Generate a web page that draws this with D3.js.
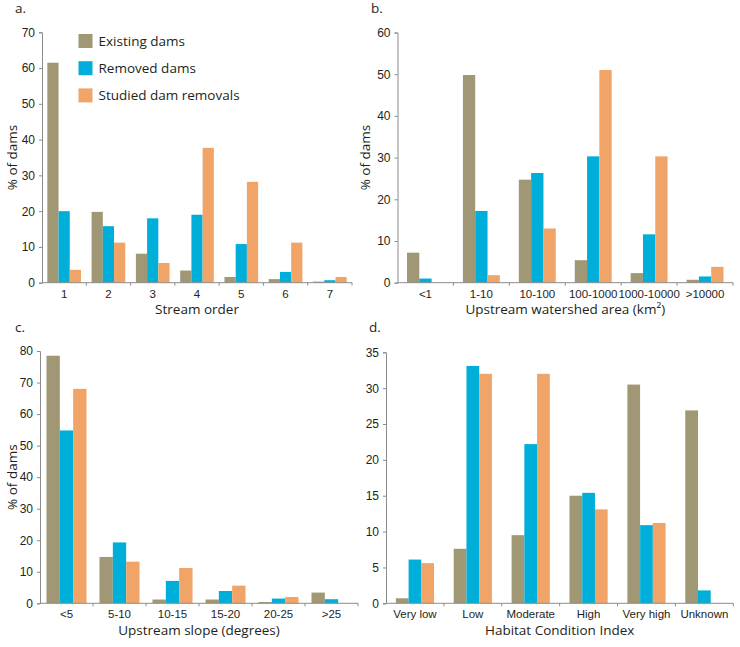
<!DOCTYPE html>
<html>
<head>
<meta charset="utf-8">
<script src="https://cdn.jsdelivr.net/npm/d3@7"></script>
<style>
  body { margin: 0; background: #fff; }
  svg { display: block; font-family: "Open Sans", sans-serif; }
  .axis path, .axis line { stroke: #8c8c8c; }
  .axis text { fill: #231f20; font-size: 11.5px; }
</style>
</head>
<body>
<div id="chart"></div>
<script>
// series names and colours
const seriesNames = ['Existing dams', 'Removed dams', 'Studied dam removals'];
const seriesColors = ['#a09874', '#00afd9', '#f0a468'];

// a. stream order
const streamOrder = ['1', '2', '3', '4', '5', '6', '7'];
const streamExisting = [61.5, 19.8, 8.1, 3.4, 1.6, 1.0, 0.3];
const streamRemoved = [20.0, 15.8, 18.0, 19.0, 10.8, 3.0, 0.7];
const streamStudied = [3.6, 11.2, 5.5, 37.7, 28.2, 11.2, 1.6];

// b. upstream watershed area
const areaClasses = ['<1', '1-10', '10-100', '100-1000', '1000-10000', '>10000'];
const areaExisting = [7.2, 49.8, 24.7, 5.4, 2.3, 0.7];
const areaRemoved = [1.0, 17.2, 26.3, 30.3, 11.6, 1.5];
const areaStudied = [0, 1.8, 13.0, 51.0, 30.3, 3.8];

// c. upstream slope
const slopeClasses = ['<5', '5-10', '10-15', '15-20', '20-25', '>25'];
const slopeExisting = [78.5, 14.7, 1.2, 1.2, 0.4, 3.4];
const slopeRemoved = [54.8, 19.3, 7.1, 3.9, 1.5, 1.3];
const slopeStudied = [68.0, 13.2, 11.2, 5.6, 2.0, 0];

// d. habitat condition index
const habitatClasses = ['Very low', 'Low', 'Moderate', 'High', 'Very high', 'Unknown'];
const habitatExisting = [0.7, 7.6, 9.5, 15.0, 30.5, 26.9];
const habitatRemoved = [6.1, 33.1, 22.2, 15.4, 10.9, 1.8];
const habitatStudied = [5.6, 32.0, 32.0, 13.1, 11.2, 0];

const width = 740, height = 647;

const svg = d3.select('#chart').append('svg')
    .attr('width', width)
    .attr('height', height);

const panels = [
    { tag: 'a.', tagX: 15, tagY: 13, cats: streamOrder, vals: [streamExisting, streamRemoved, streamStudied],
      x0: 42, x1: 352, yTop: 32.3, yBot: 282.7, max: 70, step: 10, group: 0.76,
      title: 'Stream order', titleY: 313.5, yLabelX: 12, legend: true },
    { tag: 'b.', tagX: 371, tagY: 13, cats: areaClasses, vals: [areaExisting, areaRemoved, areaStudied],
      x0: 397.5, x1: 733, yTop: 32.5, yBot: 282.7, max: 60, step: 10, group: 0.66,
      title: 'Upstream watershed area (km²)', titleY: 313.5, yLabelX: 365 },
    { tag: 'c.', tagX: 15, tagY: 331.5, cats: slopeClasses, vals: [slopeExisting, slopeRemoved, slopeStudied],
      x0: 40, x1: 358, yTop: 351, yBot: 603.3, max: 80, step: 10, group: 0.755,
      title: 'Upstream slope (degrees)', titleY: 634.5, yLabelX: 12 },
    { tag: 'd.', tagX: 369, tagY: 331.5, cats: habitatClasses, vals: [habitatExisting, habitatRemoved, habitatStudied],
      x0: 386, x1: 733.3, yTop: 352.3, yBot: 603.3, max: 35, step: 5, group: 0.66,
      title: 'Habitat Condition Index', titleY: 635, yLabelX: null }
];

panels.forEach(p => {
    const g = svg.append('g');

    const x = d3.scaleBand()
        .domain(p.cats)
        .range([p.x0, p.x1])
        .padding(0);

    const pad = x.bandwidth() * (1 - p.group) / 2;
    const xs = d3.scaleBand()
        .domain(seriesNames)
        .range([pad, x.bandwidth() - pad])
        .padding(0);

    const y = d3.scaleLinear()
        .domain([0, p.max])
        .range([p.yBot, p.yTop]);

    // bars
    p.vals.forEach((series, si) => {
        g.append('g')
            .attr('fill', seriesColors[si])
            .selectAll('rect')
            .data(series.map((v, i) => ({ cat: p.cats[i], v: v })).filter(d => d.v > 0))
            .enter()
            .append('rect')
            .attr('x', d => x(d.cat) + xs(seriesNames[si]))
            .attr('y', d => y(d.v))
            .attr('width', xs.bandwidth())
            .attr('height', d => y(0) - y(d.v));
    });

    // y axis
    g.append('g')
        .attr('class', 'axis')
        .attr('transform', `translate(${p.x0},0)`)
        .call(d3.axisLeft(y).tickValues(d3.range(0, p.max + 0.01, p.step)).tickSize(3).tickSizeOuter(3).tickPadding(4))
        .call(a => a.selectAll('text').style('font-size', '12px'));

    // x axis: labels centred in bands, small ticks on band boundaries
    const xa = g.append('g')
        .attr('class', 'axis')
        .attr('transform', `translate(0,${p.yBot})`)
        .call(d3.axisBottom(x).tickSize(0).tickSizeOuter(0).tickPadding(7));
    xa.select('.domain').attr('d', `M${p.x0},0H${p.x1}`);

    xa.selectAll('.bound')
        .data(p.cats.slice(1).map(c => x(c)).concat([p.x1]))
        .enter()
        .append('line')
        .attr('class', 'bound')
        .attr('x1', d => d).attr('x2', d => d)
        .attr('y1', 0).attr('y2', 3);

    // axis title
    g.append('text')
        .attr('x', (p.x0 + p.x1) / 2)
        .attr('y', p.titleY)
        .attr('text-anchor', 'middle')
        .attr('fill', '#231f20')
        .style('font-size', '13.5px')
        .text(p.title);

    if (p.yLabelX !== null) {
        g.append('text')
            .attr('transform', `translate(${p.yLabelX},${(p.yTop + p.yBot) / 2}) rotate(-90)`)
            .attr('dy', '0.35em')
            .attr('text-anchor', 'middle')
            .attr('fill', '#231f20')
            .style('font-size', '13.5px')
            .text('% of dams');
    }

    // panel tag
    g.append('text')
        .attr('x', p.tagX)
        .attr('y', p.tagY)
        .attr('fill', '#231f20')
        .style('font-size', '13.5px')
        .text(p.tag);

    if (p.legend) {
        const lg = g.append('g').attr('transform', 'translate(78.5,34)');
        const row = lg.selectAll('g')
            .data(seriesNames)
            .enter()
            .append('g')
            .attr('transform', (d, i) => `translate(0,${i * 27.2})`);
        row.append('rect')
            .attr('width', 14).attr('height', 14)
            .attr('fill', (d, i) => seriesColors[i]);
        row.append('text')
            .attr('x', 20).attr('y', 7)
            .attr('dy', '0.35em')
            .attr('fill', '#231f20')
            .style('font-size', '13.5px')
            .text(d => d);
    }
});
</script>
</body>
</html>
